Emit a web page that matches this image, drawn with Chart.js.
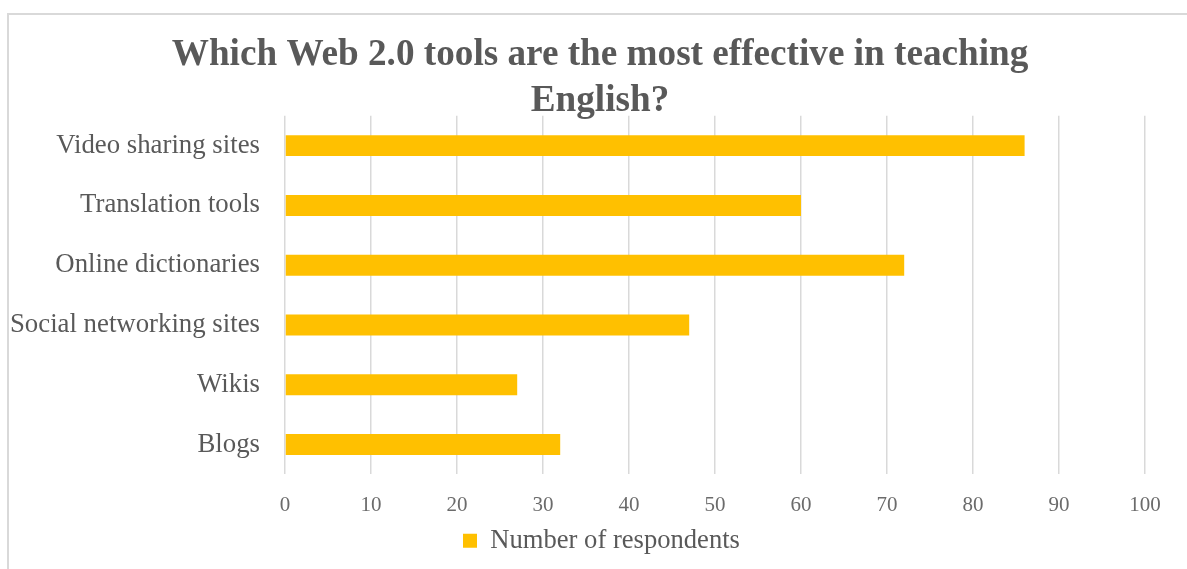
<!DOCTYPE html>
<html>
<head>
<meta charset="utf-8">
<script src="https://cdn.jsdelivr.net/npm/chart.js@4.4.0/dist/chart.umd.min.js"></script>
<style>
  html, body { margin: 0; padding: 0; background: #ffffff; overflow: hidden; }
  #wrap { position: relative; width: 1187px; height: 569px; }
  #frame { position: absolute; left: 7px; top: 13px; width: 1300px; height: 700px;
           border-top: 2px solid #d9d9d9; border-left: 2px solid #d9d9d9; pointer-events: none; }
  canvas { position: absolute; left: 0; top: 0; }
</style>
</head>
<body>
<div id="wrap">
  <canvas id="c" width="1187" height="569"></canvas>
  <div id="frame"></div>
</div>
<script>
const titleLines = ["Which Web 2.0 tools are the most effective in teaching", "English?"];
const categories = ["Video sharing sites", "Translation tools", "Online dictionaries", "Social networking sites", "Wikis", "Blogs"];
const seriesName = "Number of respondents";
const respondents = [86, 60, 72, 47, 27, 32];
const xMin = 0, xMax = 100, xStep = 10;

const serif = "'Liberation Serif', 'Times New Roman', serif";
const textColor = "#595959";

// centre title and legend over the same horizontal span as the original
const centerBlocks = {
  id: 'centerBlocks',
  afterLayout(chart) {
    if (chart.titleBlock) { chart.titleBlock.left += 55; }
    if (chart.legend) { chart.legend.left = 453; }
  }
};

new Chart(document.getElementById('c'), {
  type: 'bar',
  plugins: [centerBlocks],
  data: {
    labels: categories,
    datasets: [{
      label: seriesName,
      data: respondents,
      backgroundColor: '#FFC000',
      borderWidth: 0,
      barPercentage: 1,
      categoryPercentage: 0.35
    }]
  },
  options: {
    indexAxis: 'y',
    responsive: false,
    animation: false,
    devicePixelRatio: 1,
    layout: { padding: { left: 0, right: 42, top: 0, bottom: 5 } },
    plugins: {
      title: {
        display: true,
        text: titleLines,
        color: textColor,
        font: { family: serif, size: 37.2, weight: 'bold', lineHeight: 1.22 },
        padding: { top: 33, bottom: -8 }
      },
      legend: {
        position: 'bottom',
        align: 'start',
        labels: {
          color: textColor,
          font: { family: serif, size: 26.6 },
          boxWidth: 14,
          boxHeight: 14,
          padding: 10
        }
      },
      tooltip: { enabled: false }
    },
    scales: {
      x: {
        min: xMin, max: xMax,
        ticks: { stepSize: xStep, color: '#6b6b6b', font: { family: serif, size: 21 }, padding: 18 },
        grid: { color: '#d9d9d9', lineWidth: 1.5, drawTicks: false },
        border: { display: false },
        afterFit: (s) => { s.height = 43; }
      },
      y: {
        ticks: { color: textColor, font: { family: serif, size: 26.8 }, padding: 25 },
        grid: { display: false, drawTicks: false },
        border: { display: false },
        afterFit: (s) => { s.width = 285; }
      }
    }
  }
});
</script>
</body>
</html>
